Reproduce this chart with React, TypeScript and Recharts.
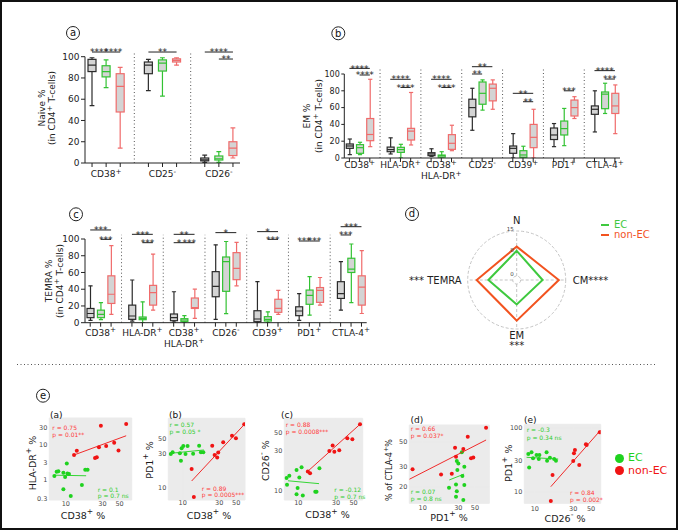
import React from "react";
import {
  BarChart,
  Bar,
  XAxis,
  YAxis,
  ReferenceLine,
  RadarChart,
  Radar,
  PolarGrid,
  PolarAngleAxis,
  PolarRadiusAxis,
  Legend,
  ScatterChart,
  Scatter,
  CartesianGrid,
} from "recharts";

const FONT = '"DejaVu Sans", Verdana, sans-serif';
const AXIS = "#222";
const BOX_COLORS = ["#2b2b2b", "#33c233", "#f06b6b"];
const BOX_FILL = "#d4d4d4";
const PT_GREEN = "#1fd21f";
const PT_RED = "#f01414";
const TXT_GREEN = "#2ecc2e";
const TXT_RED = "#ff3a3a";

// ---- box plot data: [min, q1, median, q3, max] ----
const naiveGroups = ["CD38^+^", "CD25^-^", "CD26^-^"];
const naiveBlack = [[54, 86, 92, 97.5, 99], [68, 84, 92, 95, 97.5], [0.6, 2, 3, 4.7, 7.5]];
const naiveGreen = [[71, 81, 86, 91.5, 97], [63, 86.5, 94, 97, 99], [0.5, 2.8, 4, 6.6, 10.7]];
const naiveRed = [[14, 48, 72, 84, 90], [92, 95, 96.5, 98, 99], [4.7, 7, 14, 20, 33]];
// [group, from, to, y, label]
const naiveSig: [number, number, number, number, string][] = [
  [0, 0, 1, 104.4, "****"],
  [0, 1, 2, 104.4, "****"],
  [1, 0, 2, 104.4, "**"],
  [2, 0, 2, 104.4, "****"],
  [2, 1, 2, 97.8, "**"],
];

const emGroups = ["CD38^+^", "HLA-DR^+^", "CD38^+^|HLA-DR^+^", "CD25^-^", "CD39^+^", "PD1^+^", "CTLA-4^+^"];
const emBlack = [[4, 11.5, 14.3, 16.7, 22.6], [4.8, 7.5, 10, 13, 24], [2, 2.8, 4.8, 6.3, 11], [33, 49, 60, 70, 83], [0, 5.6, 11.5, 14.3, 29], [13.5, 22, 27.4, 35.7, 41], [31, 52, 58, 62, 80]];
const emGreen = [[4, 5.6, 12.3, 15.9, 18.7], [0, 6.7, 10, 12.7, 16.3], [0, 1, 2.8, 3.5, 7.5], [57, 64, 77, 90.5, 93], [0, 0.8, 3.6, 8.7, 14], [14.7, 27.4, 35, 44, 59], [53, 58.7, 76, 78.6, 89]];
const emRed = [[13.5, 20.6, 28, 47, 93.7], [15.5, 21.4, 32, 35.3, 78], [8.7, 10.3, 17.5, 27.8, 39], [58, 68, 83, 88, 93], [0, 12.3, 24.6, 40, 58], [47, 50, 60, 69, 73], [29, 53, 62, 77, 87]];
const emSig: [number, number, number, number, string][] = [
  [0, 0, 2, 106.7, "****"],
  [0, 1, 2, 98.8, "****"],
  [1, 0, 2, 93.7, "****"],
  [1, 1, 2, 84, "****"],
  [2, 0, 2, 93.7, "****"],
  [2, 1, 2, 84, "****"],
  [3, 0, 2, 108.7, "**"],
  [3, 0, 1, 100, "**"],
  [4, 0, 2, 77, "**"],
  [4, 1, 2, 67, "**"],
  [5, 1, 2, 80, "***"],
  [6, 0, 2, 104, "****"],
  [6, 1, 2, 94, "***"],
];

const temraGroups = ["CD38^+^", "HLA-DR^+^", "CD38^+^|HLA-DR^+^", "CD26^-^", "CD39^+^", "PD1^+^", "CTLA-4^+^"];
const temraBlack = [[2.8, 6, 11, 17, 44], [2, 4, 8, 21, 51], [0.8, 2.4, 6, 10.4, 37], [4, 31, 43.4, 61, 93], [0, 1.2, 4.4, 14.3, 49], [2.8, 8.4, 14, 19, 34.7], [15, 29, 34.7, 49, 73]];
const temraGreen = [[3.6, 6, 10, 15, 24], [0, 3.6, 5.2, 6.8, 25], [0, 1.6, 3.2, 4.8, 8.4], [10.8, 37.5, 73, 78.5, 97], [0, 2, 4, 7.2, 13], [9, 22, 32.7, 39, 55], [24, 60, 64, 77, 94]];
const temraRed = [[10, 23, 34, 56, 92], [15, 21, 36, 44.6, 82], [5.2, 17, 18, 29.5, 40], [44, 51.4, 65, 83.7, 96], [10, 12.4, 17, 28, 38.6], [21, 24.3, 38.6, 42, 54], [11, 21, 42.6, 56, 86]];
const temraSig: [number, number, number, number, string][] = [
  [0, 0, 2, 110.8, "***"],
  [0, 1, 2, 99.6, "***"],
  [1, 0, 2, 105.6, "***"],
  [1, 1, 2, 95.6, "***"],
  [2, 0, 2, 105.6, "**"],
  [2, 0, 1, 95.6, "*"],
  [2, 1, 2, 95.6, "***"],
  [3, 0, 2, 107.6, "*"],
  [4, 0, 2, 108.8, "*"],
  [4, 1, 2, 99.6, "***"],
  [5, 0, 1, 97.6, "***"],
  [5, 1, 2, 97.6, "***"],
  [6, 0, 2, 114.7, "***"],
  [6, 0, 1, 104.8, "***"],
];
const percentTicks = [0, 20, 40, 60, 80, 100];

// ---- radar ----
const radarAxes = ["N", "CM", "EM", "TEMRA"];
const radarStars = ["", "****", "***", "***"];
const radarEc = [8.4, 7.3, 6.8, 8.1];
const radarNonEc = [9.8, 12.7, 12.2, 12.0];

// ---- scatter data [x, y] ----
const hlaCd38Ec = [[7.1, 1.27], [7.6, 1.69], [8.0, 1.73], [9.3, 1.58], [10.5, 1.5], [9.8, 1.2], [11, 1.45], [9.3, 0.54], [11.6, 0.35], [16.2, 0.71], [17.9, 1.92], [19.2, 1.92], [10.3, 2.9]];
const hlaCd38NonEc = [[28.6, 33.3], [61, 37], [13.9, 6.6], [12.8, 5.0], [27, 8.2], [33.5, 8.9], [42.6, 11], [48.5, 6.7], [25.3, 4.3], [24, 4.1]];
const hlaCd38FitEc = [[7, 1.35], [18.4, 1.3]];
const hlaCd38FitNonEc = [[12.8, 5.0], [61, 17.4]];

const pd1Cd38Ec = [[7.0, 29.9], [7.4, 31.6], [9.2, 30.6], [9.7, 36], [10.2, 38.8], [11.6, 38.8], [10.9, 29.9], [9.5, 23.9], [16.4, 39.2], [17.3, 31.6], [18.6, 31.6], [13.7, 30]];
const pd1Cd38NonEc = [[63.5, 79], [44, 54], [49.5, 50], [33.8, 43.9], [24.3, 39.2], [29.1, 31.2], [26.1, 28.9], [28.2, 26.5], [13.1, 18.2], [14, 7.3]];
const pd1Cd38FitEc = [[7.0, 30.5], [18.9, 34]];
const pd1Cd38FitNonEc = [[13.1, 12.3], [64.7, 80]];

const cd26Cd38Ec = [[7.1, 14.1], [7.7, 15], [7.2, 11.7], [9.5, 17.7], [11, 19], [10.3, 14.3], [9.8, 10.7], [9.5, 9.0], [11.4, 8.7], [16.4, 9.7], [17, 9.7], [18.5, 18.5]];
const cd26Cd38NonEc = [[60.4, 62.4], [41.7, 42.4], [48.3, 41.2], [27.2, 34.6], [24.7, 29.9], [28.6, 29.3], [33, 30.4], [13.2, 16.9], [14.1, 16.1]];
const cd26Cd38FitEc = [[7.4, 13.1], [18.3, 12.1]];
const cd26Cd38FitNonEc = [[12.8, 16.6], [60.4, 62.4]];

const ctlaPd1Ec = [[33.4, 40.3], [28.6, 33.7], [30, 32.1], [36.1, 30], [29.1, 28], [34, 24.8], [36.1, 20.6], [22.5, 19.5], [27.9, 20.9], [28.6, 18.2], [27.9, 16.2], [35, 15.2]];
const ctlaPd1NonEc = [[7.3, 28.5], [70.6, 66.6], [40.1, 55.4], [27.1, 44.3], [35, 43], [27.9, 36.8], [44.4, 35.6], [47.6, 36.3], [17.6, 25.6], [24.5, 26]];
const ctlaPd1FitEc = [[22.7, 22.9], [35.8, 25.8]];
const ctlaPd1FitNonEc = [[6.6, 23.2], [70.6, 51.8]];

const pd1Cd26Ec = [[8.3, 38.8], [9.1, 41.3], [8.5, 24], [10.5, 37.4], [9.5, 33.2], [11.2, 32.4], [14, 41.3], [14.2, 30.5], [15.4, 34], [17.4, 32.4], [18.3, 30.5], [11.4, 37.4]];
const pd1Cd26NonEc = [[64, 84.7], [43.1, 55], [44, 53.7], [31.5, 44.9], [30.6, 39.8], [30, 30.2], [35.6, 26.1], [16.6, 18.2], [15.8, 7.2]];
const pd1Cd26FitEc = [[7.9, 34.5], [19.5, 32.4]];
const pd1Cd26FitNonEc = [[15.8, 12], [65.8, 92]];

// "^" toggles superscript
function rich(s: string, fs: number) {
  return s.split("^").map((p, i) =>
    i % 2 ? (
      <tspan key={i} dy={-fs * 0.4} fontSize={fs * 0.8}>{p}</tspan>
    ) : (
      <tspan key={i} dy={i ? fs * 0.4 : 0}>{p}</tspan>
    )
  );
}

const boxId = (prefix: string, g: number, j: number) => `${prefix}${g}_${j}`;

function buildRows(prefix: string, groups: string[], sets: number[][][]) {
  const rows: any[] = [];
  groups.forEach((g, i) => {
    if (i > 0) rows.push({ id: `${prefix}sep${i}`, kind: "sep" });
    sets.forEach((set, j) =>
      rows.push({ id: boxId(prefix, i, j), kind: "box", label: j === 1 ? g : "", stats: set[i], color: BOX_COLORS[j] })
    );
  });
  return rows;
}

const boxRange = (d: any) => (d.stats ? [d.stats[0], d.stats[4]] : null);

function BoxShape(props: any) {
  const { x, y, width, height, payload } = props;
  if (!payload || !payload.stats) return <g />;
  const [mn, q1, md, q3, mx] = payload.stats;
  const top = Math.min(y, y + height);
  const k = mx - mn > 0 ? Math.abs(height) / (mx - mn) : 0;
  const py = (v: number) => top + (mx - v) * k;
  const cx = x + width / 2;
  const cap = width * 0.3;
  const c = payload.color;
  return (
    <g>
      <line x1={cx} x2={cx} y1={py(mx)} y2={py(mn)} stroke={c} strokeWidth={1.2} />
      <line x1={cx - cap} x2={cx + cap} y1={py(mx)} y2={py(mx)} stroke={c} strokeWidth={1.2} />
      <line x1={cx - cap} x2={cx + cap} y1={py(mn)} y2={py(mn)} stroke={c} strokeWidth={1.2} />
      <rect x={x} y={py(q3)} width={width} height={Math.max(py(q1) - py(q3), 0.8)} fill={BOX_FILL} stroke={c} strokeWidth={1.2} />
      <line x1={x} x2={x + width} y1={py(md)} y2={py(md)} stroke={c} strokeWidth={1.2} />
    </g>
  );
}

function BoxTick(props: any) {
  const { x, y, payload, rows, labelDy } = props;
  const row = rows.find((r: any) => r.id === payload.value);
  if (!row || row.kind !== "box") return <g />;
  const lines = row.label ? row.label.split("|") : [];
  return (
    <g>
      <line x1={x} x2={x} y1={y} y2={y + 4} stroke={AXIS} />
      {lines.map((ln: string, i: number) => (
        <text key={i} x={x} y={y + labelDy + i * 11} textAnchor="middle" fontSize={9} fill={AXIS}>
          {rich(ln, 9)}
        </text>
      ))}
    </g>
  );
}

function BoxPanel({ cfg }: { cfg: any }) {
  const rows = buildRows(cfg.prefix, cfg.groups, [cfg.black, cfg.green, cfg.red]);
  const seps = rows.filter((r) => r.kind === "sep");
  return (
    <div style={{ position: "absolute", left: cfg.left, top: cfg.top }}>
      <BarChart width={cfg.w} height={cfg.h} data={rows} margin={cfg.margin} barSize={cfg.barSize}>
        <XAxis
          dataKey="id"
          type="category"
          interval={0}
          tickLine={false}
          tickSize={0}
          tickMargin={0}
          height={cfg.xh}
          axisLine={{ stroke: AXIS }}
          tick={(p: any) => <BoxTick {...p} rows={rows} labelDy={cfg.labelDy} />}
        />
        <YAxis
          domain={[0, 100]}
          ticks={percentTicks}
          interval={0}
          width={30}
          tickSize={cfg.ytSize}
          tickMargin={1.5}
          axisLine={{ stroke: AXIS }}
          tickLine={{ stroke: AXIS }}
          tick={{ fontSize: cfg.ytFont, fill: AXIS }}
          allowDataOverflow
        />
        {seps.map((r) => (
          <ReferenceLine
            key={r.id}
            segment={[{ x: r.id, y: 0 }, { x: r.id, y: cfg.sepTop }]}
            stroke="#555"
            strokeDasharray="1 2.5"
            ifOverflow="visible"
          />
        ))}
        {cfg.sig.map(([g, a, b, y, t]: any, i: number) => (
          <ReferenceLine
            key={"sig" + i}
            segment={[{ x: boxId(cfg.prefix, g, a), y }, { x: boxId(cfg.prefix, g, b), y }]}
            stroke={AXIS}
            strokeWidth={1}
            ifOverflow="visible"
            label={{ value: t, position: "center", fontSize: 9, fill: AXIS }}
          />
        ))}
        <Bar dataKey={boxRange} shape={(p: any) => <BoxShape {...p} />} isAnimationActive={false} />
      </BarChart>
    </div>
  );
}

const boxPanels = [
  {
    prefix: "a", groups: naiveGroups, black: naiveBlack, green: naiveGreen, red: naiveRed, sig: naiveSig,
    left: 0, top: 0, w: 250, h: 195, margin: { top: 56.7, right: 10, bottom: 2, left: 55 },
    xh: 30, barSize: 8, labelDy: 14.3, sepTop: 104.5, ytFont: 9, ytSize: 4,
  },
  {
    prefix: "b", groups: emGroups, black: emBlack, green: emGreen, red: emRed, sig: emSig,
    left: 280, top: 0, w: 350, h: 195, margin: { top: 74, right: 10, bottom: 7, left: 34.3 },
    xh: 30, barSize: 7, labelDy: 10.3, sepTop: 107, ytFont: 8, ytSize: 3,
  },
  {
    prefix: "c", groups: temraGroups, black: temraBlack, green: temraGreen, red: temraRed, sig: temraSig,
    left: 0, top: 195, w: 380, h: 170, margin: { top: 44, right: 13.3, bottom: 7.3, left: 55 },
    xh: 35, barSize: 7, labelDy: 13, sepTop: 105, ytFont: 9, ytSize: 4,
  },
];

// ---- radar ----
const RADAR_CX = 136.7;
const RADAR_CY = 80;
const radarData = radarAxes.map((a, i) => ({ axis: a, ec: radarEc[i], nonEc: radarNonEc[i] }));

function RadarTick(props: any) {
  const { payload } = props;
  const i = radarAxes.indexOf(payload.value);
  const name = radarAxes[i];
  const stars = radarStars[i];
  const common = { fontSize: 10, fill: AXIS };
  if (i === 0) return <text x={RADAR_CX} y={RADAR_CY - 56.5} textAnchor="middle" {...common}>{name}</text>;
  if (i === 1) return <text x={RADAR_CX + 56} y={RADAR_CY + 3.5} textAnchor="start" {...common}>{`${name}${stars}`}</text>;
  if (i === 2)
    return (
      <g>
        <text x={RADAR_CX} y={RADAR_CY + 58.5} textAnchor="middle" {...common}>{name}</text>
        <text x={RADAR_CX} y={RADAR_CY + 69} textAnchor="middle" {...common}>{stars}</text>
      </g>
    );
  return <text x={RADAR_CX - 55} y={RADAR_CY + 3.5} textAnchor="end" {...common}>{`${stars} ${name}`}</text>;
}

function RadarLegend({ payload }: any) {
  return (
    <div style={{ fontSize: 10, lineHeight: "10px", whiteSpace: "nowrap" }}>
      {(payload || []).map((e: any) => (
        <div key={e.value} style={{ color: e.color }}>
          <span style={{ display: "inline-block", width: 8, height: 2, background: e.color, verticalAlign: "middle", marginRight: 5 }} />
          {e.value}
        </div>
      ))}
    </div>
  );
}

// ---- scatter panels ----
const toXY = (arr: number[][]) => arr.map(([x, y]) => ({ x, y }));
const dot = (color: string) => (p: any) => <circle cx={p.cx} cy={p.cy} r={2} fill={color} />;

const scatterPanels = [
  {
    key: "a", ec: hlaCd38Ec, nonEc: hlaCd38NonEc, fitEc: hlaCd38FitEc, fitNonEc: hlaCd38FitNonEc,
    xDomain: [6.1, 72], yDomain: [0.27, 55], xTicks: [10, 30, 50], yTicks: [0.3, 1, 3, 10, 30],
    left: 20, top: 405, w: 120, h: 125, margin: { top: 13, right: 8.3, bottom: 16, left: 10 }, xh: 14, xtm: 1,
  },
  {
    key: "b", ec: pd1Cd38Ec, nonEc: pd1Cd38NonEc, fitEc: pd1Cd38FitEc, fitNonEc: pd1Cd38FitNonEc,
    xDomain: [6.5, 65], yDomain: [6.6, 96], xTicks: [10, 30, 50], yTicks: [10, 30, 50],
    left: 140, top: 405, w: 115, h: 125, margin: { top: 13.3, right: 10, bottom: 16, left: 9 }, xh: 14, xtm: 0.5,
  },
  {
    key: "c", ec: cd26Cd38Ec, nonEc: cd26Cd38NonEc, fitEc: cd26Cd38FitEc, fitNonEc: cd26Cd38FitNonEc,
    xDomain: [6.65, 65.3], yDomain: [7.7, 73.6], xTicks: [10, 30, 50], yTicks: [10, 30, 50],
    left: 255, top: 405, w: 118, h: 125, margin: { top: 13.3, right: 10.3, bottom: 16, left: 10 }, xh: 14, xtm: 0.5,
  },
  {
    key: "d", ec: ctlaPd1Ec, nonEc: ctlaPd1NonEc, fitEc: ctlaPd1FitEc, fitNonEc: ctlaPd1FitNonEc,
    xDomain: [6.6, 78], yDomain: [14.2, 70.4], xTicks: [10, 30, 50], yTicks: [20, 30, 50],
    left: 375, top: 405, w: 125, h: 125, margin: { top: 20, right: 10.7, bottom: 13.7, left: 15 }, xh: 13, xtm: 2,
  },
  {
    key: "e", ec: pd1Cd26Ec, nonEc: pd1Cd26NonEc, fitEc: pd1Cd26FitEc, fitNonEc: pd1Cd26FitNonEc,
    xDomain: [7.4, 65.8], yDomain: [6.6, 113], xTicks: [10, 30, 50], yTicks: [10, 30, 100],
    left: 495, top: 405, w: 115, h: 125, margin: { top: 19.3, right: 9.3, bottom: 13.7, left: 10 }, xh: 13, xtm: 3,
    legend: true,
  },
];

function LogScatter({ cfg }: { cfg: any }) {
  return (
    <div style={{ position: "absolute", left: cfg.left, top: cfg.top }}>
      <ScatterChart width={cfg.w} height={cfg.h} margin={cfg.margin}>
        <CartesianGrid fill="#ebebeb" stroke="#ebebeb" />
        <XAxis
          type="number" dataKey="x" scale="log" domain={cfg.xDomain} allowDataOverflow
          ticks={cfg.xTicks} interval={0} tickLine={false} axisLine={false} tickSize={0}
          tickMargin={cfg.xtm} height={cfg.xh} tick={{ fontSize: 6.5, fill: "#4d4d4d" }}
        />
        <YAxis
          type="number" dataKey="y" scale="log" domain={cfg.yDomain} allowDataOverflow
          ticks={cfg.yTicks} interval={0} tickLine={false} axisLine={false} tickSize={0}
          tickMargin={2} width={19.3} tick={{ fontSize: 6.5, fill: "#4d4d4d" }}
        />
        <Scatter name="EC" data={toXY(cfg.ec)} fill={PT_GREEN} shape={dot(PT_GREEN)} legendType="circle" isAnimationActive={false} />
        <Scatter name="non-EC" data={toXY(cfg.nonEc)} fill={PT_RED} shape={dot(PT_RED)} legendType="circle" isAnimationActive={false} />
        <Scatter data={toXY(cfg.fitEc)} line={{ stroke: PT_GREEN, strokeWidth: 0.9 }} shape={() => <g />} legendType="none" isAnimationActive={false} />
        <Scatter data={toXY(cfg.fitNonEc)} line={{ stroke: PT_RED, strokeWidth: 0.9 }} shape={() => <g />} legendType="none" isAnimationActive={false} />
        {cfg.legend && (
          <Legend
            layout="vertical"
            align="center"
            verticalAlign="middle"
            iconType="circle"
            iconSize={9}
            wrapperStyle={{ left: 120, top: 47, width: 80, fontSize: 11, lineHeight: "12.7px", whiteSpace: "nowrap" }}
          />
        )}
      </ScatterChart>
    </div>
  );
}

// ---- static annotations ----
const panelLetters: [string, number, number][] = [["a", 73, 33], ["b", 338.3, 33.3], ["c", 76, 214.3], ["d", 412, 214], ["e", 43, 395.7]];
const boxTitles: [string, string, number, number, number][] = [
  ["Naive %", "(in CD4^+^ T-cells)", 42, 52.3, 108],
  ["EM %", "(in CD4^+^ T-cells)", 306.7, 318.5, 116],
  ["TEMRA %", "(in CD4^+^ T-cells)", 49, 59.5, 281],
];
const subTitles: [string, number, number][] = [["(a)", 50, 417.5], ["(b)", 169, 417.5], ["(c)", 281, 417.5], ["(d)", 410.5, 422.5], ["(e)", 524, 422.5]];
const statNotes: [string, number, number, string][] = [
  ["r = 0.75", 52.3, 427.3, TXT_RED], ["p = 0.01**", 52.3, 434.3, TXT_RED],
  ["r = 0.1", 97.7, 489.3, TXT_GREEN], ["p = 0.7 ns", 97.7, 496, TXT_GREEN],
  ["r = 0.57", 169.5, 424.3, TXT_GREEN], ["p = 0.05 *", 169.5, 431.7, TXT_GREEN],
  ["r = 0.89", 201.7, 488.3, TXT_RED], ["p = 0.0005***", 201.7, 495, TXT_RED],
  ["r = 0.88", 285.7, 425, TXT_RED], ["p = 0.0008***", 285.7, 431.7, TXT_RED],
  ["r = -0.12", 334.3, 489.3, TXT_GREEN], ["p = 0.7 ns", 334.3, 496.3, TXT_GREEN],
  ["r = 0.66", 410.7, 428.3, TXT_RED], ["p = 0.037*", 410.7, 435.7, TXT_RED],
  ["r = 0.07", 410.7, 491.7, TXT_GREEN], ["p = 0.8 ns", 410.7, 498.3, TXT_GREEN],
  ["r = -0.3", 526.7, 430, TXT_GREEN], ["p = 0.34 ns", 526.7, 437.3, TXT_GREEN],
  ["r = 0.84", 570, 492.3, TXT_RED], ["p = 0.002*", 570, 500, TXT_RED],
];
// [text, cx, cy, rotated, fontSize]
const scatterAxisTitles: [string, number, number, boolean, number][] = [
  ["CD38^+^ %", 83, 515, false, 9.5], ["HLA-DR^+^ %", 31.7, 463, true, 9.5],
  ["CD38^+^ %", 209, 515, false, 9.5], ["PD1^+^ %", 149, 460, true, 9.5],
  ["CD38^+^ %", 327.5, 514.3, false, 9.5], ["CD26^-^ %", 265, 460.7, true, 9.5],
  ["PD1^+^ %", 449, 516.7, false, 9.5], ["% of CTLA-4^+^%", 389, 470, true, 8],
  ["CD26^-^ %", 565, 517.5, false, 9.5], ["PD1^+^ %", 507.7, 463.3, true, 9.5],
];

function Overlay() {
  return (
    <svg width={680} height={532} style={{ position: "absolute", left: 0, top: 0, pointerEvents: "none" }}>
      <rect x={1} y={1} width={676} height={528} fill="none" stroke="#111" strokeWidth={2} />
      <line x1={17} x2={655} y1={364.5} y2={364.5} stroke="#555" strokeDasharray="1 2.5" />
      {panelLetters.map(([t, x, y]) => (
        <g key={t}>
          <circle cx={x} cy={y} r={6.5} fill="#fff" stroke="#222" strokeWidth={1} />
          <text x={x} y={y + 3.3} textAnchor="middle" fontSize={10} fill="#111">{t}</text>
        </g>
      ))}
      {boxTitles.map(([l1, l2, x1, x2, y], i) => (
        <g key={"bt" + i} fontSize={9} fill={AXIS}>
          <text transform={`translate(${x1},${y}) rotate(-90)`} textAnchor="middle" dominantBaseline="central">{rich(l1, 9)}</text>
          <text transform={`translate(${x2},${y}) rotate(-90)`} textAnchor="middle" dominantBaseline="central">{rich(l2, 9)}</text>
        </g>
      ))}
      {subTitles.map(([t, x, y]) => (
        <text key={t} x={x} y={y} fontSize={9} fill="#111">{t}</text>
      ))}
      {statNotes.map(([t, x, y, c], i) => (
        <text key={"n" + i} x={x} y={y + 2.2} fontSize={6} fill={c}>{t}</text>
      ))}
      {scatterAxisTitles.map(([t, x, y, rot, fs], i) => (
        <text
          key={"at" + i}
          transform={rot ? `translate(${x},${y}) rotate(-90)` : `translate(${x},${y})`}
          textAnchor="middle"
          dominantBaseline="central"
          fontSize={fs}
          fill="#1a1a1a"
        >
          {rich(t, fs)}
        </text>
      ))}
    </svg>
  );
}

export default function App() {
  return (
    <div style={{ position: "absolute", left: 0, top: 0, width: 680, height: 532, background: "#fff", fontFamily: FONT, overflow: "hidden" }}>
      {boxPanels.map((cfg) => (
        <BoxPanel key={cfg.prefix} cfg={cfg} />
      ))}
      <div style={{ position: "absolute", left: 380, top: 200 }}>
        <RadarChart
          width={290}
          height={160}
          data={radarData}
          cx={RADAR_CX}
          cy={RADAR_CY}
          innerRadius={4}
          outerRadius={49}
          margin={{ top: 0, right: 0, bottom: 0, left: 0 }}
        >
          <PolarGrid gridType="circle" polarRadius={[4, 49]} stroke="#c4c4c4" strokeDasharray="3 2" />
          <PolarAngleAxis dataKey="axis" tick={(p: any) => <RadarTick {...p} />} tickLine={false} axisLine={false} />
          <PolarRadiusAxis
            angle={90}
            domain={[0, 15]}
            tickCount={3}
            orientation="left"
            axisLine={false}
            tick={{ fontSize: 5.5, fill: "#444", dx: -3 }}
          />
          <Radar name="EC" dataKey="ec" stroke="#3fc93f" strokeWidth={2} fill="none" fillOpacity={0}
            dot={{ r: 2.2, fill: "#3fc93f", strokeWidth: 0 }} isAnimationActive={false} />
          <Radar name="non-EC" dataKey="nonEc" stroke="#f2531f" strokeWidth={2} fill="none" fillOpacity={0}
            dot={{ r: 2.2, fill: "#f2531f", strokeWidth: 0 }} isAnimationActive={false} />
          <Legend
            layout="vertical"
            align="center"
            verticalAlign="middle"
            content={(p: any) => <RadarLegend {...p} />}
            wrapperStyle={{ left: 221, top: 20, width: 70 }}
          />
        </RadarChart>
      </div>
      {scatterPanels.map((cfg) => (
        <LogScatter key={cfg.key} cfg={cfg} />
      ))}
      <Overlay />
    </div>
  );
}
